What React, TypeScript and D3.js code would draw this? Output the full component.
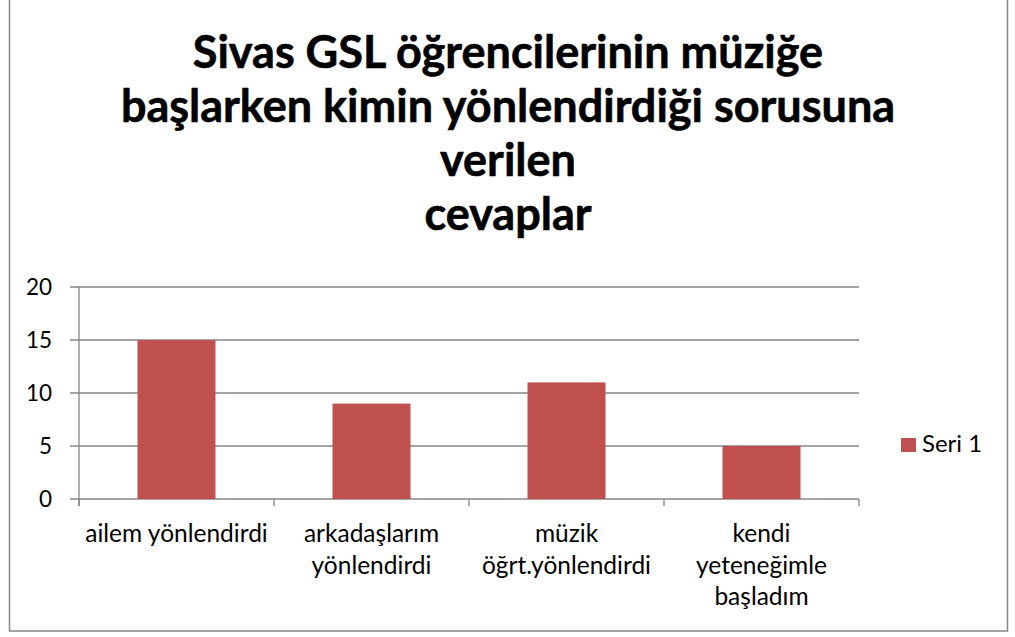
import React from "react";
import * as d3 from "d3";

const categories: string[][] = [
  ["ailem yönlendirdi"],
  ["arkadaşlarım", "yönlendirdi"],
  ["müzik", "öğrt.yönlendirdi"],
  ["kendi", "yeteneğimle", "başladım"],
];
const seriesName = "Seri 1";
const values: number[] = [15, 9, 11, 5];
const yTicks: number[] = [0, 5, 10, 15, 20];
const titleLines: string[] = [
  "Sivas GSL öğrencilerinin müziğe",
  "başlarken kimin yönlendirdiği sorusuna",
  "verilen",
  "cevaplar",
];

const W = 1015;
const H = 637;
const FONT = "Lato, 'Open Sans', sans-serif";
const BAR = "#C0504D";
const GRID = "#868686";

export default function App() {
  const x0 = 79, x1 = 859, yTop = 287, yBot = 499;
  const x = d3
    .scaleBand<number>()
    .domain(d3.range(categories.length))
    .range([x0, x1])
    .paddingInner(0.6)
    .paddingOuter(0.3);
  const y = d3.scaleLinear().domain([0, 20]).range([yBot, yTop]);
  const step = (x1 - x0) / categories.length;
  const titleBaselines = [68, 122, 176, 230];

  return (
    <svg width={W} height={H} style={{ position: "absolute", left: 0, top: 0 }}>
      <rect x={0} y={0} width={W} height={H} fill="white" />
      <rect x={9.5} y={-5} width={998} height={636} fill="none" stroke={GRID} strokeWidth={1.5} />
      {titleLines.map((t, i) => (
        <text key={i} x={508} y={titleBaselines[i]} textAnchor="middle" fontFamily={FONT} fontWeight="bold" fontSize={45} fill="#000" stroke="#000" strokeWidth={0.6}>
          {t}
        </text>
      ))}
      {yTicks.map((t) => (
        <g key={t}>
          <line x1={70} x2={x1} y1={y(t)} y2={y(t)} stroke={GRID} strokeWidth={1.3} />
          <text x={52} y={y(t)} dy="0.35em" textAnchor="end" fontFamily={FONT} fontSize={22.5} fill="#000">
            {t}
          </text>
        </g>
      ))}
      <line x1={x0} x2={x0} y1={yTop} y2={yBot + 7} stroke={GRID} strokeWidth={1.3} />
      {d3.range(categories.length + 1).map((i) => (
        <line key={i} x1={x0 + i * step} x2={x0 + i * step} y1={yBot} y2={yBot + 7} stroke={GRID} strokeWidth={1.3} />
      ))}
      {values.map((v, i) => (
        <rect key={i} x={x(i)!} y={y(v)} width={x.bandwidth()} height={yBot - y(v)} fill={BAR} />
      ))}
      {categories.map((lines, i) => (
        <text key={i} textAnchor="middle" fontFamily={FONT} fontSize={24.5} fill="#000">
          {lines.map((l, j) => (
            <tspan key={j} x={x0 + (i + 0.5) * step} y={542 + j * 31.5}>
              {l}
            </tspan>
          ))}
        </text>
      ))}
      <rect x={901} y={438} width={15} height={14} fill={BAR} />
      <text x={922} y={452} fontFamily={FONT} fontSize={24} fill="#000">
        {seriesName}
      </text>
    </svg>
  );
}
